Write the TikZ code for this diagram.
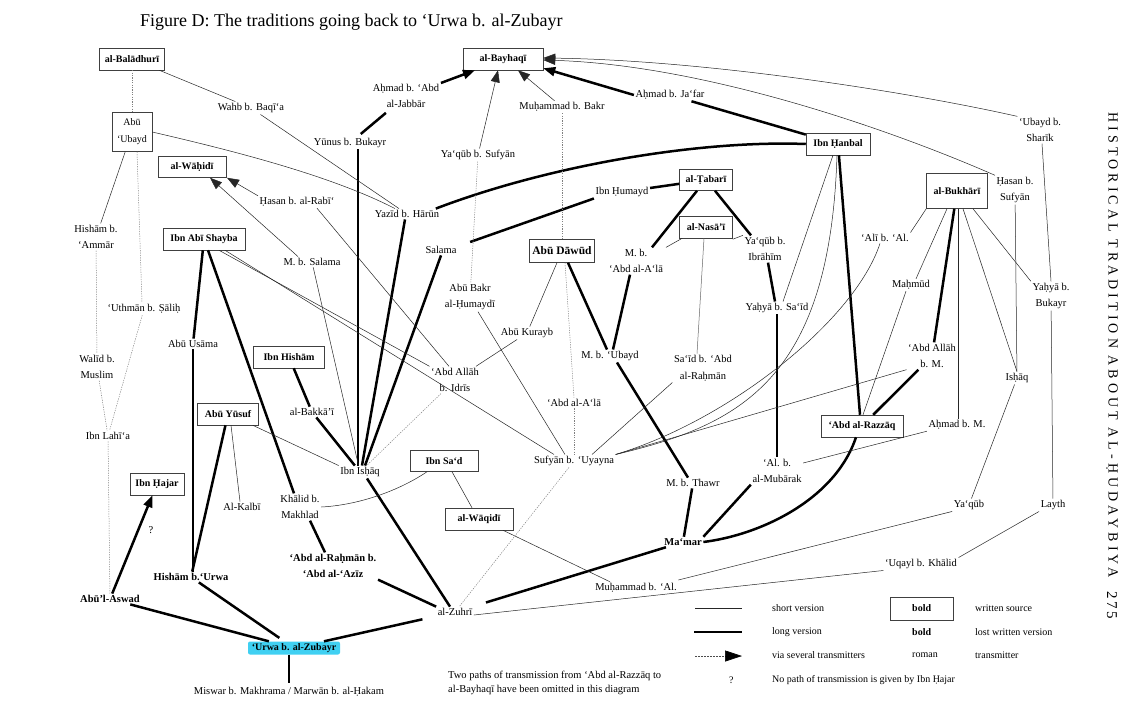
\documentclass[tikz,border=0pt]{standalone}
\usepackage{fontspec}
\setmainfont{Liberation Serif}
\usetikzlibrary{arrows.meta}
\definecolor{urwacyan}{RGB}{64,208,242}
\tikzset{
 tr/.style={font=\fontsize{10.5}{16.5}\selectfont, align=center, inner sep=1.5pt},
 trb/.style={tr, font=\fontsize{10.5}{16.5}\selectfont\bfseries},
 src/.style={draw=black!75, line width=0.5pt, font=\fontsize{10}{13}\selectfont\bfseries, align=center, inner sep=2pt},
 shortv/.style={line width=0.5pt, draw=black!85},
 longv/.style={line width=2.5pt, draw=black},
 faintv/.style={line width=0.5pt, draw=black!50, dash pattern=on 1.2pt off 1.2pt},
 arr/.style={-{Triangle[length=12pt,width=9pt]}},
 lbl/.style={font=\fontsize{10}{12}\selectfont, anchor=west, inner sep=0pt},
}
\begin{document}
\begin{tikzpicture}[x=1pt,y=-1pt]
\useasboundingbox (0,0) rectangle (1133,724);
\fill[white] (0,0) rectangle (1133,724);

% title and side text
\node[anchor=west, inner sep=0pt, font=\fontsize{18}{21}\selectfont] (title) at (140,22) {Figure D: The traditions going back to ‘Urwa b. al-Zubayr};
\node[rotate=-90, inner sep=0pt, font=\fontsize{14}{16}\selectfont\addfontfeature{LetterSpace=29}] (side) at (1112,345) {HISTORICAL TRADITION ABOUT AL-ḤUDAYBIYA};
\node[rotate=-90, inner sep=0pt, font=\fontsize{15}{17}\selectfont\addfontfeature{LetterSpace=15}] (page) at (1112,605) {275};

% written sources (boxed)
\node[src, minimum width=65pt, minimum height=22pt] (baladhuri) at (132,59) {al-Balādhurī};
\node[src, minimum width=80pt, minimum height=22pt] (bayhaqi) at (503,59) {al-Bayhaqī};
\node[src, minimum width=40pt, minimum height=39pt, font=\fontsize{10}{17}\selectfont] (abuubayd) at (132,132) {Abū\\‘Ubayd};
\node[src, minimum width=68pt, minimum height=21pt] (wahidi) at (192,167) {al-Wāḥidī};
\node[src, minimum width=82pt, minimum height=22pt] (ibnabishayba) at (204,239) {Ibn Abī Shayba};
\node[src, minimum width=64pt, minimum height=22pt] (ibnhanbal) at (838,144) {Ibn Ḥanbal};
\node[src, minimum width=53pt, minimum height=21pt] (tabari) at (706,180) {al-Ṭabarī};
\node[src, minimum width=53pt, minimum height=22pt] (nasai) at (706,227) {al-Nasā’ī};
\node[src, minimum width=61pt, minimum height=35pt] (bukhari) at (957,191) {al-Bukhārī};
\node[src, minimum width=65pt, minimum height=23pt, font=\fontsize{11.5}{13}\selectfont\bfseries] (abudawud) at (562,251) {Abū Dāwūd};
\node[src, minimum width=71pt, minimum height=22pt] (ibnhisham) at (289,357) {Ibn Hishām};
\node[src, minimum width=61pt, minimum height=22pt] (abuyusuf) at (228,414) {Abū Yūsuf};
\node[src, minimum width=54pt, minimum height=22pt] (ibnhajar) at (157,484) {Ibn Ḥajar};
\node[src, minimum width=68pt, minimum height=21pt] (ibnsad) at (444,461) {Ibn Sa‘d};
\node[src, minimum width=68pt, minimum height=22pt] (waqidi) at (479,519) {al-Wāqidī};
\node[src, minimum width=82pt, minimum height=22pt] (abdalrazzaq) at (862,426) {‘Abd al-Razzāq};
\node[fill=urwacyan, minimum width=92pt, minimum height=13pt, inner sep=0pt, rounded corners=2pt, font=\fontsize{10}{12}\selectfont\bfseries] (urwa) at (294,648) {‘Urwa b. al-Zubayr};

% transmitters
\node[tr] (wahb) at (251,108) {Wahb b. Baqī‘a};
\node[tr] (ahmadabd) at (406,96) {Aḥmad b. ‘Abd\\al-Jabbār};
\node[tr] (yunus) at (350,143) {Yūnus b. Bukayr};
\node[tr] (muhbakr) at (562,107) {Muḥammad b. Bakr};
\node[tr] (ahmadjafar) at (670,95) {Aḥmad b. Ja‘far};
\node[tr] (yaqubsufyan) at (478,155) {Ya‘qūb b. Sufyān};
\node[tr] (ubaydsharik) at (1040,130) {‘Ubayd b.\\Sharīk};
\node[tr] (ibnhumayd) at (622,192) {Ibn Ḥumayd};
\node[tr] (hasanrabi) at (297,202) {Ḥasan b. al-Rabī‘};
\node[tr] (yazid) at (407,214) {Yazīd b. Hārūn};
\node[tr] (hasansufyan) at (1015,190) {Ḥasan b.\\Sufyān};
\node[tr] (hishamammar) at (96,237) {Hishām b.\\‘Ammār};
\node[tr] (msalama) at (312,262) {M. b. Salama};
\node[tr] (salama) at (441,250) {Salama};
\node[tr] (mabdala) at (636,261) {M. b.\\‘Abd al-A‘lā};
\node[tr] (yaqubibrahim) at (765,249) {Ya‘qūb b.\\Ibrāhīm};
\node[tr] (alibal) at (885,238) {‘Alī b. ‘Al.};
\node[tr] (abubakr) at (470,297) {Abū Bakr\\al-Ḥumaydī};
\node[tr] (mahmud) at (911,285) {Maḥmūd};
\node[tr] (yahyasaid) at (777,308) {Yaḥyā b. Sa‘īd};
\node[tr] (yahyabukayr) at (1051,296) {Yaḥyā b.\\Bukayr};
\node[tr] (uthman) at (144,309) {‘Uthmān b. Ṣāliḥ};
\node[tr] (abuusama) at (193,344) {Abū Usāma};
\node[tr] (abukurayb) at (527,333) {Abū Kurayb};
\node[tr] (mubayd) at (610,356) {M. b. ‘Ubayd};
\node[tr] (saidabd) at (703,368) {Sa‘īd b. ‘Abd\\al-Raḥmān};
\node[tr] (abdallahm) at (932,356) {‘Abd Allāh\\b. M.};
\node[tr] (walid) at (97,367) {Walīd b.\\Muslim};
\node[tr] (abdallahidris) at (455,380) {‘Abd Allāh\\b. Idrīs};
\node[tr] (abdalala) at (574,403) {‘Abd al-A‘lā};
\node[tr] (lahia) at (108,436) {Ibn Lahī‘a};
\node[tr] (bakkai) at (312,412) {al-Bakkā’ī};
\node[tr] (ishaq) at (360,472) {Ibn Isḥāq};
\node[tr] (ahmadm) at (957,425) {Aḥmad b. M.};
\node[tr] (mubarak) at (777,471) {‘Al. b.\\al-Mubārak};
\node[tr] (sufyan) at (574,461) {Sufyān b. ‘Uyayna};
\node[tr] (mthawr) at (693,483) {M. b. Thawr};
\node[tr] (ishaqR) at (1017,378) {Isḥāq};
\node[tr] (khalid) at (300,507) {Khālid b.\\Makhlad};
\node[tr] (kalbi) at (242,507) {Al-Kalbī};
\node[trb] (abdrahman) at (333,566) {‘Abd al-Raḥmān b.\\‘Abd al-‘Azīz};
\node[tr] (qmark) at (151,530) {?};
\node[trb] (hishamurwa) at (191,577) {Hishām b.‘Urwa};
\node[trb] (abulaswad) at (110,599) {Abū’l-Aswad};
\node[trb] (mamar) at (683,542) {Ma‘mar};
\node[tr] (yaqub) at (969,505) {Ya‘qūb};
\node[tr] (layth) at (1053,505) {Layth};
\node[tr] (uqayl) at (921,564) {‘Uqayl b. Khālid};
\node[tr] (muhal) at (636,588) {Muḥammad b. ‘Al.};
\node[tr] (zuhri) at (455,612) {al-Zuhrī};
\node[tr] (miswar) at (289,692) {Miswar b. Makhrama / Marwān b. al-Ḥakam};
\node[anchor=north west, align=left, inner sep=0pt, font=\fontsize{10.5}{14}\selectfont] (note) at (448,671) {Two paths of transmission from ‘Abd al-Razzāq to\\al-Bayhaqī have been omitted in this diagram};

% long versions
\draw[longv, arr] (ahmadabd) -- ([xshift=-28pt]bayhaqi.south);
\draw[longv, arr] (ahmadjafar.west) -- ([yshift=2pt]bayhaqi.south east);
\draw[longv, shorten <=5pt, shorten >=4pt] (ahmadabd) -- (yunus);
\draw[longv] ([xshift=8pt]yunus.south) -- ([xshift=-2pt]ishaq.north);
\draw[longv] (ahmadjafar) -- (ibnhanbal);
\draw[longv] (ibnhanbal.west) .. controls (700,140) and (550,165) .. ([xshift=-5pt]yazid.north east);
\draw[longv] ([xshift=-2pt]yazid.south) -- ([xshift=2pt]ishaq.north);
\draw[longv] (ibnhumayd) -- (tabari);
\draw[longv] (ibnhumayd.south west) -- ([xshift=12pt,yshift=8pt]salama.east);
\draw[longv] (salama.south) -- ([xshift=5pt]ishaq.north);
\draw[longv] ([xshift=-9pt]tabari.south) -- ([xshift=16pt]mabdala.north);
\draw[longv] ([xshift=9pt]tabari.south) -- ([xshift=-14pt]yaqubibrahim.north);
\draw[longv] ([xshift=3pt]yaqubibrahim.south) -- ([xshift=-2pt]yahyasaid.north);
\draw[longv] (yahyasaid) -- (mubarak);
\draw[longv] (mubarak.south west) -- (mamar.north east);
\draw[longv] ([xshift=6pt]abudawud.south) -- ([xshift=-3pt]mubayd.north);
\draw[longv] ([xshift=-6pt]mabdala.south) -- ([xshift=3pt]mubayd.north);
\draw[longv] ([xshift=7pt]mubayd.south) -- ([xshift=-5pt]mthawr.north);
\draw[longv] (mthawr) -- (mamar);
\draw[longv] (ibnhanbal) -- ([xshift=-2pt]abdalrazzaq.north);
\draw[longv] (bukhari) -- (abdallahm);
\draw[longv] (abdallahm) -- (abdalrazzaq);
\draw[longv] ([xshift=-6pt]abdalrazzaq.south) .. controls (835,500) and (760,535) .. (mamar.east);
\draw[longv, shorten >=14pt] (mamar) -- (zuhri);
\draw[longv] (ibnabishayba) -- (abuusama);
\draw[longv] (abuusama.south) -- ([xshift=2pt]hishamurwa.north);
\draw[longv] ([xshift=4pt]ibnabishayba.south) -- ([xshift=-6pt]khalid.north);
\draw[longv] ([xshift=10pt]khalid.south) -- ([xshift=-8pt]abdrahman.north);
\draw[longv] (abdrahman.south east) -- (zuhri.north west);
\draw[longv] ([xshift=7pt]ishaq.south) -- ([xshift=-5pt]zuhri.north);
\draw[longv] (ibnhisham) -- (bakkai);
\draw[longv] (bakkai) -- (ishaq);
\draw[longv] (abuyusuf) -- (hishamurwa);
\draw[longv, shorten >=6pt] (hishamurwa) -- (urwa);
\draw[longv] (abulaswad) -- (urwa);
\draw[longv, arr] (abulaswad) -- (ibnhajar);
\draw[longv, shorten <=14pt] (zuhri) -- (urwa);
\draw[longv, shorten >=3pt] ([xshift=-5pt]urwa.south) -- (miswar.north);

% short versions
\draw[shortv] (baladhuri) -- (wahb);
\draw[shortv] (wahb) -- (yazid);
\draw[shortv] (abuubayd.east) .. controls (230,150) and (330,175) .. ([xshift=-12pt]yazid.north);
\draw[shortv] (abuubayd) -- (hishamammar);
\draw[shortv, arr] (hasanrabi.north west) -- ([xshift=35pt]wahidi.south);
\draw[shortv, arr] ([xshift=-14pt]msalama.north) -- ([xshift=18pt]wahidi.south);
\draw[shortv] ([xshift=20pt]hasanrabi.south) -- ([xshift=-6pt]abdallahidris.north);
\draw[shortv] (msalama) -- (ishaq);
\draw[shortv, arr] (yaqubsufyan) -- ([xshift=-5pt]bayhaqi.south);
\draw[shortv, arr] (muhbakr) -- ([xshift=15pt]bayhaqi.south);
\draw[shortv, arr] (ubaydsharik.north west) .. controls (900,90) and (700,60) .. ([yshift=1pt]bayhaqi.east);
\draw[shortv, arr] (hasansufyan.north west) .. controls (880,125) and (700,65) .. ([yshift=-1pt]bayhaqi.east);
\draw[shortv] ([xshift=15pt]ibnabishayba.south) -- (abdallahidris.north west);
\draw[shortv] ([xshift=21pt]ibnabishayba.south) -- ([xshift=-20pt]sufyan.north);
\draw[shortv] (abukurayb) -- (abdallahidris);
\draw[shortv] (abudawud) -- (abukurayb);
\draw[shortv] ([xshift=8pt]abubakr.south) -- ([xshift=-9pt]sufyan.north);
\draw[shortv] ([xshift=3pt]nasai.south west) -- ([xshift=30pt]mabdala.north);
\draw[shortv] ([yshift=-1pt]nasai.south east) -- (yaqubibrahim.north west);
\draw[shortv, draw=black!60] ([xshift=-2pt]nasai.south) -- ([xshift=-6pt]saidabd.north);
\draw[shortv] (saidabd.south west) -- ([xshift=18pt]sufyan.north);
\draw[shortv] ([xshift=-5pt]ibnhanbal.south) -- ([xshift=6pt]yahyasaid.north);
\draw[shortv] ([xshift=-1pt]ibnhanbal.south) .. controls (830,380) and (740,425) .. (sufyan.north east);
\draw[shortv] ([xshift=-5pt]alibal.south) .. controls (855,320) and (730,420) .. (sufyan.north east);
\draw[shortv] (abdallahm.south west) -- (sufyan.north east);
\draw[shortv] (bukhari.south west) -- (alibal.north east);
\draw[shortv] ([xshift=-10pt]bukhari.south) -- ([xshift=5pt]mahmud.north);
\draw[shortv] ([xshift=-5pt]mahmud.south) -- ([xshift=1pt]abdalrazzaq.north);
\draw[shortv] ([xshift=1pt]bukhari.south) -- ([xshift=1pt]ahmadm.north);
\draw[shortv] ([xshift=6pt]bukhari.south) -- (ishaqR.north);
\draw[shortv] ([xshift=16pt]bukhari.south) -- (yahyabukayr.north west);
\draw[shortv] ([xshift=2pt]ubaydsharik.south) -- (yahyabukayr.north);
\draw[shortv] (ahmadm.south west) -- ([yshift=8pt]mubarak.east);
\draw[shortv] (hasansufyan) -- (ishaqR);
\draw[shortv] (ishaqR) -- (yaqub);
\draw[shortv] (yaqub.south west) -- ([yshift=8pt]muhal.east);
\draw[shortv] (yahyabukayr) -- (layth);
\draw[shortv] (layth.south west) -- (uqayl.north east);
\draw[shortv] (uqayl.south west) -- ([yshift=-3pt]zuhri.east);
\draw[shortv] ([xshift=-17pt]ibnsad.south) .. controls (400,490) and (360,505) .. (khalid.east);
\draw[shortv] ([xshift=8pt]ibnsad.south) -- ([xshift=-7pt]waqidi.north);
\draw[shortv] ([xshift=24pt]waqidi.south) -- ([xshift=-26pt]muhal.north);
\draw[shortv] ([xshift=3pt]abuyusuf.south) -- ([xshift=-2pt]kalbi.north);
\draw[shortv] ([xshift=-6pt]abuyusuf.south east) -- (ishaq.north west);

% faint (via several transmitters)
\draw[faintv] (baladhuri) -- (abuubayd);
\draw[faintv] ([xshift=5pt]abuubayd.south) -- ([xshift=-2pt]uthman.north);
\draw[faintv] (hishamammar) -- (walid);
\draw[faintv] (uthman) -- (lahia);
\draw[faintv] (walid) -- (lahia);
\draw[faintv] (lahia) -- (abulaswad);
\draw[faintv] (muhbakr) -- (abudawud);
\draw[faintv] (yaqubsufyan) -- (abubakr);
\draw[faintv] ([xshift=3pt]abudawud.south) -- (abdalala.north);
\draw[faintv] (abdalala) -- (sufyan);
\draw[faintv] (sufyan) -- (zuhri);
\draw[faintv] (abdallahidris) -- (ishaq);

% legend
\coordinate (l1a) at (695,608); \coordinate (l1b) at (742,608);
\coordinate (l2a) at (694,632); \coordinate (l2b) at (742,632);
\coordinate (l3a) at (695,656); \coordinate (l3b) at (742,656);
\draw[shortv] (l1a) -- (l1b);
\draw[longv] (l2a) -- (l2b);
\draw[line width=0.6pt, draw=black!70, dash pattern=on 1.5pt off 1.5pt, -{Triangle[length=17pt,width=11pt,color=black]}] (l3a) -- (l3b);
\node[lbl] (t1) at (772,608) {short version};
\node[lbl] (t2) at (772,632) {long version};
\node[lbl] (t3) at (772,655) {via several transmitters};
\node[draw=black!75, line width=0.5pt, minimum width=63pt, minimum height=23pt, inner sep=0pt] (legbox) at (921.5,609) {};
\node[lbl, font=\fontsize{10}{12}\selectfont\bfseries] (b1) at (912,608) {bold};
\node[lbl, font=\fontsize{10}{12}\selectfont\bfseries] (b2) at (912,632) {bold};
\node[lbl] (b3) at (912,655) {roman};
\node[lbl] (w1) at (975,608) {written source};
\node[lbl] (w2) at (975,632) {lost written version};
\node[lbl] (w3) at (975,655) {transmitter};
\node[lbl] (q2) at (729,680) {?};
\node[lbl] (q2t) at (772,680) {No path of transmission is given by Ibn Ḥajar};
\end{tikzpicture}
\end{document}
